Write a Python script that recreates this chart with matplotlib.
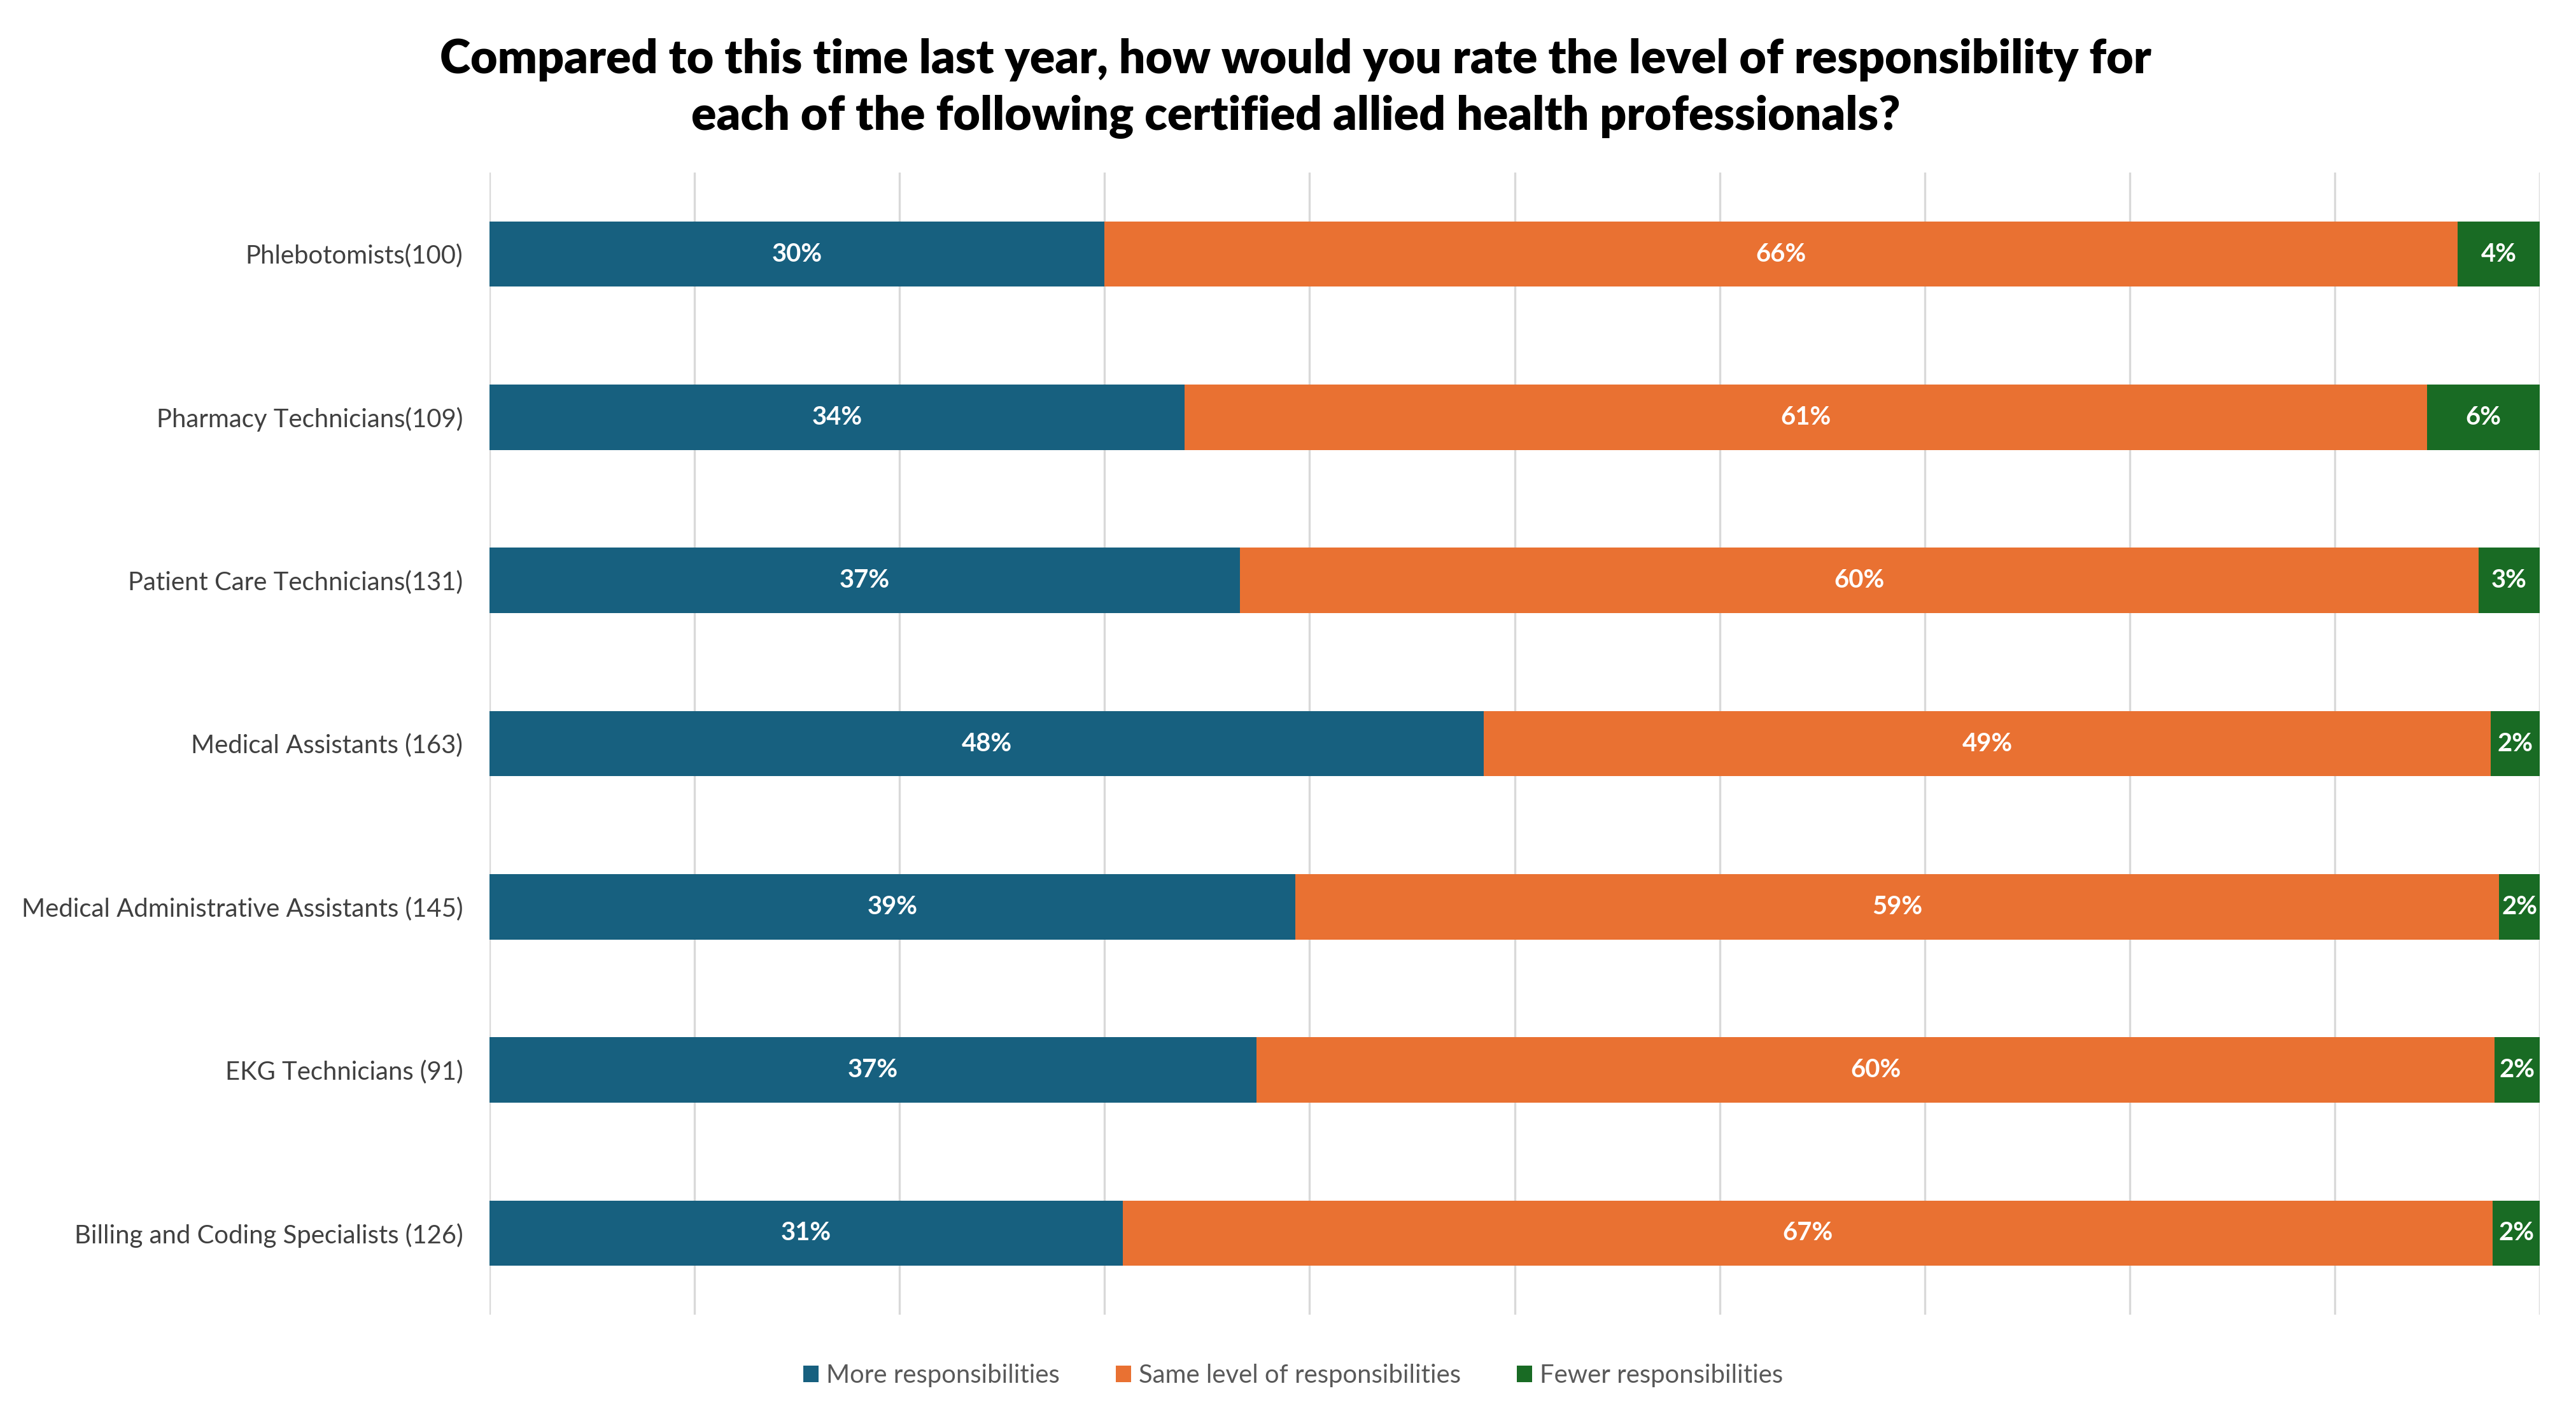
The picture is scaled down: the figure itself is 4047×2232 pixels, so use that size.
import matplotlib.pyplot as plt

plt.rcParams['font.family'] = ['Lato', 'DejaVu Sans']

# data (percent of respondents)
categories = ['Phlebotomists(100)', 'Pharmacy Technicians(109)', 'Patient Care Technicians(131)',
              'Medical Assistants (163)', 'Medical Administrative Assistants (145)',
              'EKG Technicians (91)', 'Billing and Coding Specialists (126)']
more = [30.0, 33.9, 36.6, 48.5, 39.3, 37.4, 30.9]
same = [66.0, 60.6, 60.4, 49.1, 58.7, 60.4, 66.8]
fewer = [4.0, 5.5, 3.0, 2.4, 2.0, 2.2, 2.3]
series_names = ['More responsibilities', 'Same level of responsibilities', 'Fewer responsibilities']
colors = ['#17607F', '#E97132', '#196B24']

fig = plt.figure(figsize=(4047 / 300, 2232 / 300), dpi=300)
ax = fig.add_axes([0.190, 0.0748, 0.796, 0.8038])

y = range(len(categories))
left = [0] * len(categories)
for vals, name, c in zip([more, same, fewer], series_names, colors):
    bars = ax.barh(y, vals, left=left, height=0.4, color=c, label=name, zorder=3)
    for b, v in zip(bars, vals):
        ax.text(b.get_x() + b.get_width() / 2, b.get_y() + b.get_height() / 2,
                f'{v:.0f}%', ha='center', va='center', color='white',
                fontsize=9.6, fontweight='bold', zorder=4)
    left = [l + v for l, v in zip(left, vals)]

ax.set_xlim(0, 100)
ax.set_ylim(len(categories) - 0.5, -0.5)
ax.set_yticks(list(y))
ax.set_yticklabels(categories, fontsize=9.6, color='#404040')
ax.set_xticks(range(0, 101, 10))
ax.set_xticklabels([])
ax.tick_params(axis='both', length=0, pad=10)
ax.grid(axis='x', color='#D9D9D9', linewidth=0.8, zorder=0)
for s in ax.spines.values():
    s.set_visible(False)

fig.text(0.503, 0.973, 'Compared to this time last year, how would you rate the level of responsibility for\n'
         'each of the following certified allied health professionals?',
         ha='center', va='top', fontsize=17.6, fontweight='heavy', linespacing=1.38)

fig.legend(loc='center', bbox_to_anchor=(0.502, 0.032), ncol=3, frameon=False,
           fontsize=9.6, labelcolor='#595959', handlelength=0.6, handleheight=0.6,
           handletextpad=0.3, columnspacing=2.2)

fig.savefig('out.png', dpi=300)
